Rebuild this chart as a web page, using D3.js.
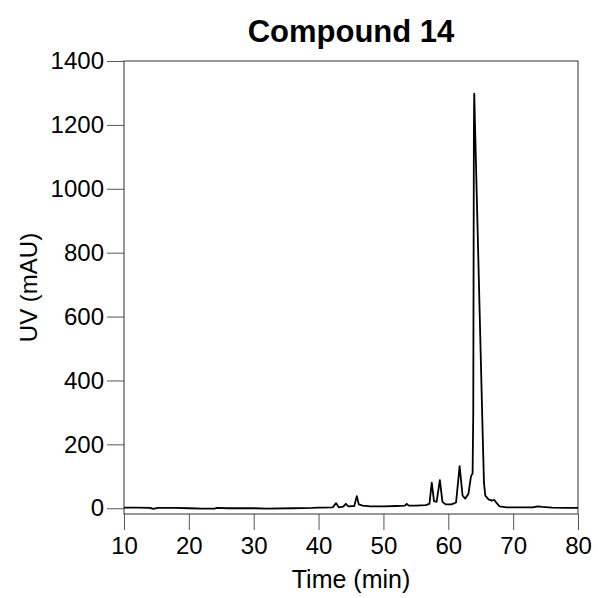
<!DOCTYPE html>
<html>
<head>
<meta charset="utf-8">
<script src="https://cdn.jsdelivr.net/npm/d3@7"></script>
<style>
  body { margin: 0; background: #fff; }
  svg { font-family: "Liberation Sans", Arial, Helvetica, sans-serif; }
</style>
</head>
<body>
<div id="chart"></div>
<script>
// chromatogram: retention time (min) and UV signal (mAU)
var times = [10, 12, 14, 14.5, 15.2, 18, 20, 22, 24, 24.3, 26, 30, 32, 36, 39, 40,
  42.2, 42.7, 43.1, 43.8, 44.2, 44.6, 45.5, 45.9, 46.2, 46.8, 48, 50, 52, 53.3, 53.6, 53.9,
  55, 56.5, 57.1, 57.45, 57.8, 58.2, 58.7, 59.1, 59.6, 60.5, 61.2, 61.75, 62.2, 62.6, 63.1,
  63.5, 63.75, 63.85, 63.95, 64.0, 64.5, 65.0, 65.3, 65.5, 65.7, 66.2, 66.7, 67.1, 67.5,
  67.9, 69, 71, 73, 73.8, 74.5, 76, 78, 80]
var uv = [2, 2, 1, -2, 1, 1, 0, -1, -1, 1, 0, 0, -1, 0, 1, 2,
  3, 16, 3, 5, 14, 6, 7, 38, 12, 8, 6, 6, 7, 8, 14, 8,
  8, 10, 14, 80, 22, 20, 88, 20, 12, 12, 18, 132, 40, 30, 45,
  100, 110, 300, 1200, 1298, 890, 480, 235, 80, 40, 28, 24, 26, 15,
  6, 3, 3, 3, 6, 4, 2, 1, 1]
var xTicks = [10, 20, 30, 40, 50, 60, 70, 80]
var yTicks = [0, 200, 400, 600, 800, 1000, 1200, 1400]

var width = 598, height = 598
var margin = {top: 61, right: 20, bottom: 84, left: 124}

var svg = d3.select('#chart').append('svg')
  .attr('width', width)
  .attr('height', height)

var x = d3.scaleLinear()
  .domain([10, 80])
  .range([margin.left, width - margin.right])

var y = d3.scaleLinear()
  .domain([-18, 1400])
  .range([height - margin.bottom, margin.top])

var xAxis = d3.axisBottom(x)
  .tickValues(xTicks)
  .tickSizeInner(16)
  .tickSizeOuter(0)
  .tickPadding(7)
  .tickFormat(d3.format('d'))

var yAxis = d3.axisLeft(y)
  .tickValues(yTicks)
  .tickSizeInner(17)
  .tickSizeOuter(0)
  .tickPadding(3)
  .tickFormat(d3.format('d'))

svg.append('g')
  .attr('transform', 'translate(0,' + (height - margin.bottom) + ')')
  .call(xAxis)
svg.append('g')
  .attr('transform', 'translate(' + margin.left + ',0)')
  .call(yAxis)

svg.selectAll('.domain').remove()
svg.selectAll('.tick line').attr('stroke', '#555')
svg.selectAll('.tick text')
  .attr('fill', '#000')
  .style('font-size', '24px')

// frame round the plot
svg.append('rect')
  .attr('x', margin.left)
  .attr('y', margin.top)
  .attr('width', width - margin.left - margin.right)
  .attr('height', height - margin.top - margin.bottom)
  .attr('fill', 'none')
  .attr('stroke', '#333')
  .attr('stroke-width', 1)

var line = d3.line()
  .x(function(d, i) { return x(times[i]) })
  .y(function(d) { return y(d) })

svg.append('path')
  .datum(uv)
  .attr('d', line)
  .attr('fill', 'none')
  .attr('stroke', '#000')
  .attr('stroke-width', 1.8)
  .attr('stroke-linejoin', 'round')

svg.append('text')
  .attr('x', (margin.left + width - margin.right) / 2)
  .attr('y', 42)
  .attr('text-anchor', 'middle')
  .style('font-size', '31px')
  .style('font-weight', 'bold')
  .text('Compound 14')

svg.append('text')
  .attr('x', (margin.left + width - margin.right) / 2)
  .attr('y', 588)
  .attr('text-anchor', 'middle')
  .style('font-size', '25px')
  .text('Time (min)')

svg.append('text')
  .attr('transform', 'translate(37,' + (margin.top + height - margin.bottom) / 2 + ') rotate(-90)')
  .attr('text-anchor', 'middle')
  .style('font-size', '24px')
  .text('UV (mAU)')
</script>
</body>
</html>
